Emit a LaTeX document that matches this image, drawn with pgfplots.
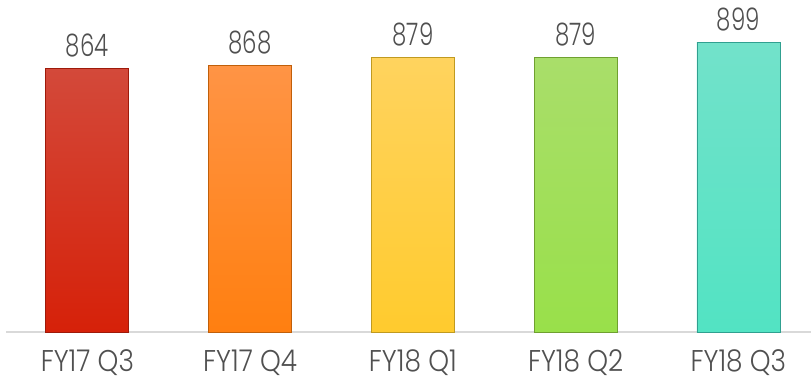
\documentclass[border=0pt]{standalone}
\usepackage{fontspec}
\setmainfont{Poppins Light}[FakeStretch=0.8]
\newfontfamily\labfont{Poppins Light}[FakeStretch=0.88]
\newfontfamily\numfont{Poppins Light}[FakeStretch=0.74]
\usepackage{pgfplots}
\pgfplotsset{compat=1.18}
\definecolor{txt}{HTML}{505050}
\definecolor{rT}{HTML}{D3493A}\definecolor{rB}{HTML}{D62109}\definecolor{rE}{HTML}{9E1A0A}
\definecolor{oT}{HTML}{FF9445}\definecolor{oB}{HTML}{FF7F10}\definecolor{oE}{HTML}{C05F0A}
\definecolor{yT}{HTML}{FFD35E}\definecolor{yB}{HTML}{FFCB2E}\definecolor{yE}{HTML}{C09A20}
\definecolor{gT}{HTML}{A9DE6A}\definecolor{gB}{HTML}{99E04A}\definecolor{gE}{HTML}{6FA030}
\definecolor{tT}{HTML}{72E2CA}\definecolor{tB}{HTML}{52E3C3}\definecolor{tE}{HTML}{30A090}
\definecolor{axl}{HTML}{D9D9D9}
\begin{document}
\begin{tikzpicture}
\begin{axis}[
  scale only axis,
  width=805bp, height=332bp,
  xmin=-0.5, xmax=4.446,
  ymin=504, ymax=957.6,
  axis y line=none,
  axis x line*=bottom,
  x axis line style={draw=axl, line width=2bp, -},
  xtick={0,1,2,3,4},
  xticklabels={FY17 Q3, FY17 Q4, FY18 Q1, FY18 Q2, FY18 Q3},
  major tick length=0pt,
  xticklabel style={font=\labfont\fontsize{30bp}{33bp}\selectfont, text=txt, yshift=-14bp},
  ybar, bar width=0.51, bar shift=0pt,
  clip=false,
  /pgf/number format/assume math mode=true,
  nodes near coords,
  nodes near coords style={font=\numfont\fontsize{31bp}{34bp}\selectfont, text=txt, anchor=south, yshift=8bp},
]
\coordinate (ll) at (rel axis cs:0,0);
\addplot[top color=rT, bottom color=rB, draw=rE, line width=0.8bp] coordinates {(0,864)};
\addplot[top color=oT, bottom color=oB, draw=oE, line width=0.8bp] coordinates {(1,868)};
\addplot[top color=yT, bottom color=yB, draw=yE, line width=0.8bp] coordinates {(2,879)};
\addplot[top color=gT, bottom color=gB, draw=gE, line width=0.8bp] coordinates {(3,879)};
\addplot[top color=tT, bottom color=tB, draw=tE, line width=0.8bp] coordinates {(4,899)};
\end{axis}
\pgfresetboundingbox
\path[use as bounding box] ([shift={(-6bp,-49bp)}]ll) rectangle ([shift={(805bp,332bp)}]ll);
\end{tikzpicture}
\end{document}
